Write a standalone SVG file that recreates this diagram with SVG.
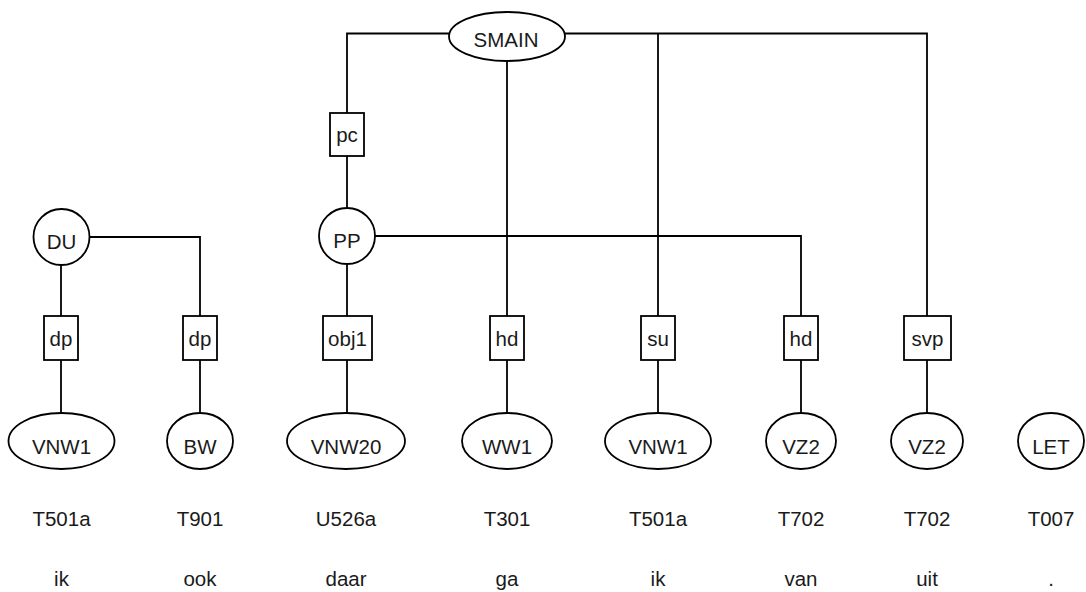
<svg xmlns="http://www.w3.org/2000/svg" width="1086" height="592" viewBox="0 0 1086 592">
<style>
.n{fill:#fff;stroke:#000;stroke-width:1.8}
.e{fill:none;stroke:#000;stroke-width:1.8}
text{font-family:"Liberation Sans",Arial,sans-serif;font-size:20.5px;fill:#1a1a1a;text-anchor:middle}
</style>
<g id="connectors">
<polyline class="e" points="449,33.5 347,33.5 347,113"/>
<line class="e" x1="347" y1="156" x2="347" y2="208"/>
<polyline class="e" points="564,33.5 927,33.5 927,316"/>
<line class="e" x1="658" y1="33.5" x2="658" y2="316"/>
<line class="e" x1="507" y1="61" x2="507" y2="316"/>
<polyline class="e" points="375,236 801,236 801,316"/>
<line class="e" x1="347" y1="264" x2="347" y2="316"/>
<polyline class="e" points="89,237 200,237 200,316"/>
<line class="e" x1="61" y1="265" x2="61" y2="316"/>
<line class="e" x1="61" y1="360" x2="61" y2="413"/>
<line class="e" x1="200" y1="360" x2="200" y2="413"/>
<line class="e" x1="347" y1="360" x2="347" y2="413"/>
<line class="e" x1="507" y1="360" x2="507" y2="413"/>
<line class="e" x1="658" y1="360" x2="658" y2="413"/>
<line class="e" x1="801" y1="360" x2="801" y2="413"/>
<line class="e" x1="927" y1="360" x2="927" y2="413"/>
</g>
<g id="SMAIN"><ellipse class="n" cx="507" cy="36.5" rx="58" ry="24.5"/><text x="506" y="47">SMAIN</text></g>
<g id="lbl_pc"><rect class="n" x="330" y="113" width="34" height="43"/><text x="347" y="142">pc</text></g>
<g id="DU"><circle class="n" cx="61.5" cy="237" r="28"/><text x="61.5" y="249">DU</text></g>
<g id="PP"><circle class="n" cx="347" cy="236" r="28"/><text x="347" y="248">PP</text></g>
<g id="lbl_dp1"><rect class="n" x="44" y="316" width="34" height="44"/><text x="61" y="346">dp</text></g>
<g id="lbl_dp2"><rect class="n" x="183" y="316" width="34" height="44"/><text x="200" y="346">dp</text></g>
<g id="lbl_obj1"><rect class="n" x="323" y="316" width="49" height="44"/><text x="347.5" y="346">obj1</text></g>
<g id="lbl_hd1"><rect class="n" x="490" y="316" width="34" height="44"/><text x="507" y="346">hd</text></g>
<g id="lbl_su"><rect class="n" x="641" y="316" width="34" height="44"/><text x="658" y="346">su</text></g>
<g id="lbl_hd2"><rect class="n" x="784" y="316" width="34" height="44"/><text x="801" y="346">hd</text></g>
<g id="lbl_svp"><rect class="n" x="904" y="316" width="47" height="44"/><text x="927.5" y="346">svp</text></g>
<g id="leaf1"><ellipse class="n" cx="61.5" cy="441" rx="53" ry="28"/><text x="61.5" y="454">VNW1</text><text x="61.5" y="526">T501a</text><text x="61.5" y="586">ik</text></g>
<g id="leaf2"><ellipse class="n" cx="200" cy="441" rx="33" ry="28"/><text x="200" y="454">BW</text><text x="200" y="526">T901</text><text x="200" y="586">ook</text></g>
<g id="leaf3"><ellipse class="n" cx="346" cy="441" rx="59" ry="28"/><text x="346" y="454">VNW20</text><text x="346" y="526">U526a</text><text x="346" y="586">daar</text></g>
<g id="leaf4"><ellipse class="n" cx="507" cy="441" rx="45" ry="28"/><text x="507" y="454">WW1</text><text x="507" y="526">T301</text><text x="507" y="586">ga</text></g>
<g id="leaf5"><ellipse class="n" cx="658" cy="441" rx="53" ry="28"/><text x="658" y="454">VNW1</text><text x="658" y="526">T501a</text><text x="658" y="586">ik</text></g>
<g id="leaf6"><ellipse class="n" cx="801" cy="441" rx="35" ry="28"/><text x="801" y="454">VZ2</text><text x="801" y="526">T702</text><text x="801" y="586">van</text></g>
<g id="leaf7"><ellipse class="n" cx="927" cy="441" rx="36" ry="28"/><text x="927" y="454">VZ2</text><text x="927" y="526">T702</text><text x="927" y="586">uit</text></g>
<g id="leaf8"><ellipse class="n" cx="1051" cy="441" rx="33" ry="28"/><text x="1051" y="454">LET</text><text x="1051" y="526">T007</text><text x="1051" y="586">.</text></g>
</svg>
